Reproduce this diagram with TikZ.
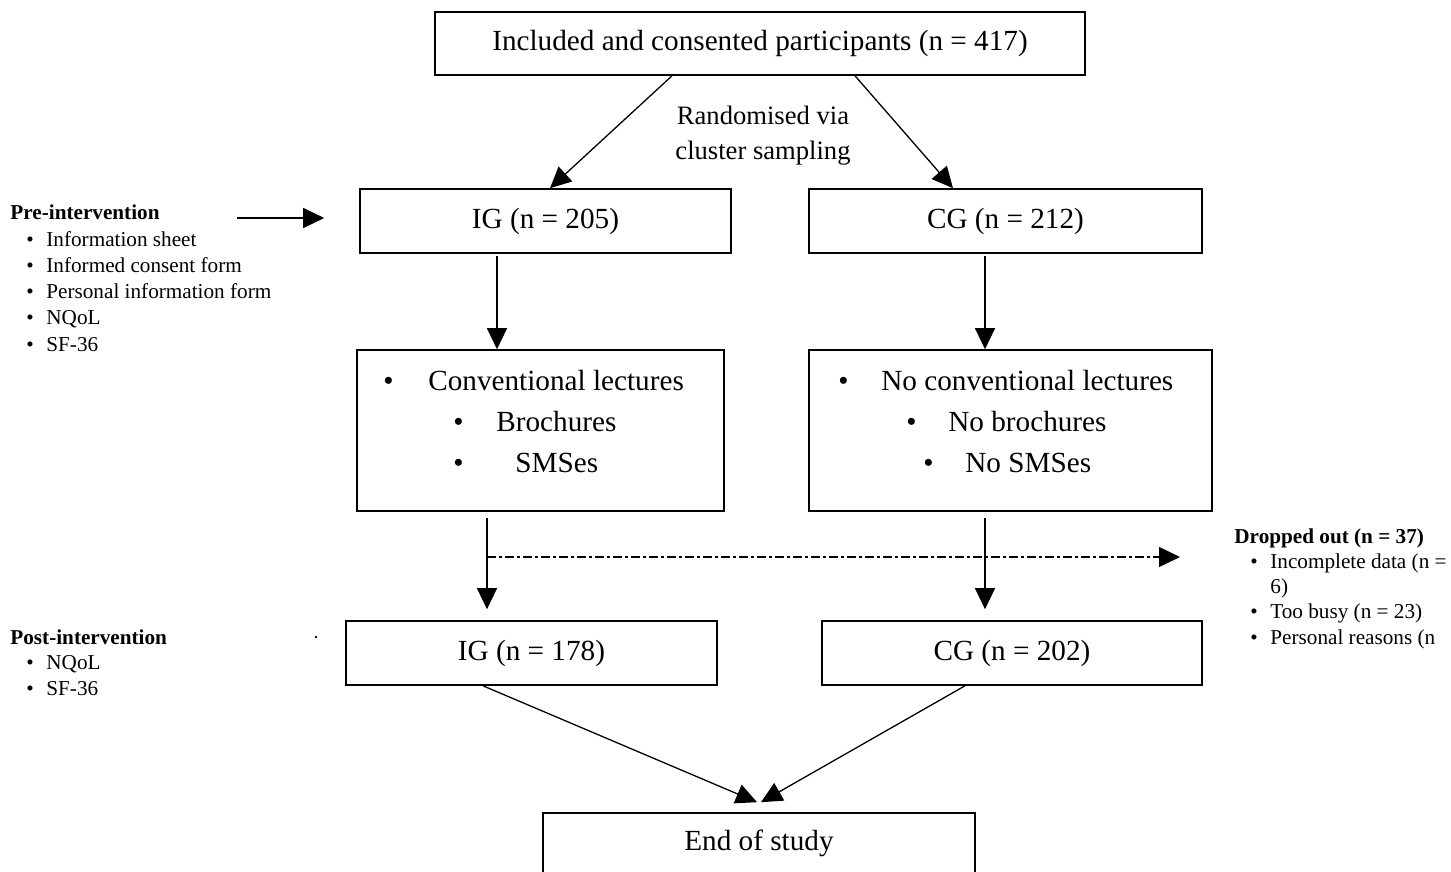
\documentclass[tikz,border=0pt]{standalone}
\usepackage{fontspec}
\setmainfont{Liberation Serif}
\usetikzlibrary{arrows.meta}
\newcommand*\boxfont{\fontsize{14.6pt}{20.5pt}\selectfont}
\newcommand*\notefont{\fontsize{13.3pt}{17.5pt}\selectfont}
\newcommand*\sidefont{\fontsize{10.6pt}{13pt}\selectfont}
\newcommand*\dropfont{\fontsize{10.6pt}{13pt}\selectfont}
\newcommand*\bul[2]{\makebox[#1][l]{\textbullet}#2}
\tikzset{
    flowbox/.style  = {draw, line width=0.8pt, inner sep=0pt, font=\boxfont},
    boxline/.style  = {anchor=base west, inner sep=0pt, font=\boxfont},
    sideline/.style = {anchor=base west, inner sep=0pt, font=\sidefont},
    dropline/.style = {anchor=base west, inner sep=0pt, font=\dropfont},
    flow/.style     = {line width=0.65pt, -{Triangle[length=10.5pt,width=10pt]}},
    dropflow/.style = {flow, dash pattern=on 4.5pt off 1.5pt on 1.5pt off 1.5pt},
  }
\begin{document}
\begin{tikzpicture}[x=0.5pt, y=-0.5pt]
        \useasboundingbox (0,0) rectangle (1451,872);

        % boxes of the flow
        \node[flowbox, minimum width=325pt, minimum height=31.5pt] (incl) at (760,43.5) {Included and consented participants (n = 417)};
        \node[flowbox, minimum width=185.5pt, minimum height=32pt] (igpre) at (545.5,221) {IG (n = 205)};
        \node[flowbox, minimum width=196.5pt, minimum height=32pt] (cgpre) at (1005.5,221) {CG (n = 212)};
        \node[flowbox, minimum width=183.5pt, minimum height=80.5pt] (igmid) at (540.5,430.5) {};
        \node[flowbox, minimum width=201.5pt, minimum height=80.5pt] (cgmid) at (1010.5,430.5) {};
        \node[flowbox, minimum width=185.5pt, minimum height=32pt] (igpost) at (531.5,653) {IG (n = 178)};
        \node[flowbox, minimum width=190pt, minimum height=32pt] (cgpost) at (1012,653) {CG (n = 202)};
        \node[flowbox, minimum width=216pt, minimum height=30pt] (endst) at (759,843) {End of study};

        \node[font=\notefont, align=center, inner sep=0pt] (rand) at (763,135.5) {Randomised via\\cluster sampling};

        % intervention contents
        \node[boxline] (ig1) at (383,390.5) {\bul{22.5pt}{Conventional lectures}};
        \node[boxline] (ig2) at (453,431.5) {\bul{21.5pt}{Brochures}};
        \node[boxline] (ig3) at (453,472.5) {\bul{31pt}{SMSes}};
        \node[boxline] (cg1) at (838,390.5) {\bul{21.5pt}{No conventional lectures}};
        \node[boxline] (cg2) at (906,431.5) {\bul{21pt}{No brochures}};
        \node[boxline] (cg3) at (923,472.5) {\bul{21pt}{No SMSes}};

        % side notes
        \node[sideline] (prehead) at (10,220) {\textbf{Pre-intervention}};
        \foreach \t [count=\i from 1] in {Information sheet,Informed consent form,Personal information form,NQoL,SF-36} {
            \node[sideline] (pre\i) at (26,220+26.2*\i) {\bul{10pt}{\t}};
        }
        \node[sideline] (posthead) at (10,644) {\textbf{Post-intervention}};
        \foreach \t [count=\i from 1] in {NQoL,SF-36} {
            \node[sideline] (post\i) at (26,643+26.3*\i) {\bul{10pt}{\t}};
        }
        \node[circle, fill, inner sep=0pt, minimum size=1.3pt] (dot) at (316,637) {};

        \node[dropline] (drophead) at (1234,543) {\textbf{Dropped out (n = 37)}};
        \node[dropline] (drop1) at (1250,568) {\bul{10pt}{Incomplete data (n =}};
        \node[dropline] (drop1b) at (1270,593) {6)};
        \node[dropline] (drop2) at (1250,618.5) {\bul{10pt}{Too busy (n = 23)}};
        \node[dropline] (drop3) at (1250,644) {\bul{10pt}{Personal reasons (n}};

        % connectors
        \draw[flow] ([xshift=-44pt]incl.south) -- ([xshift=2.25pt]igpre.north);
        \draw[flow] ([xshift=47.5pt]incl.south) -- ([xshift=-26.25pt]cgpre.north);
        \draw[flow] ([xshift=-24.25pt,yshift=-1pt]igpre.south) -- ([xshift=-21.75pt]igmid.north);
        \draw[flow] ([xshift=-10.25pt,yshift=-1pt]cgpre.south) -- ([xshift=-12.75pt]cgmid.north);
        \draw[flow] ([xshift=-26.75pt,yshift=-3pt]igmid.south) -- ([xshift=-22.25pt,yshift=5.5pt]igpost.north);
        \draw[flow] ([xshift=-12.75pt,yshift=-3pt]cgmid.south) -- ([xshift=-13.5pt,yshift=5.5pt]cgpost.north);
        \draw[flow] ([xshift=-24.25pt]igpost.south) -- ([xshift=-1pt,yshift=5pt]endst.north);
        \draw[flow] ([xshift=-23.5pt]cgpost.south) -- ([xshift=1pt,yshift=5pt]endst.north);

        \coordinate (prefrom) at (237,218);
        \draw[flow] (prefrom) -- ([xshift=-17.5pt,yshift=1.5pt]igpre.west);

        \coordinate (dropfrom) at (487,557);
        \coordinate (dropto) at (1180,557);
        \draw[dropflow] (dropfrom) -- (dropto);
\end{tikzpicture}
\end{document}
